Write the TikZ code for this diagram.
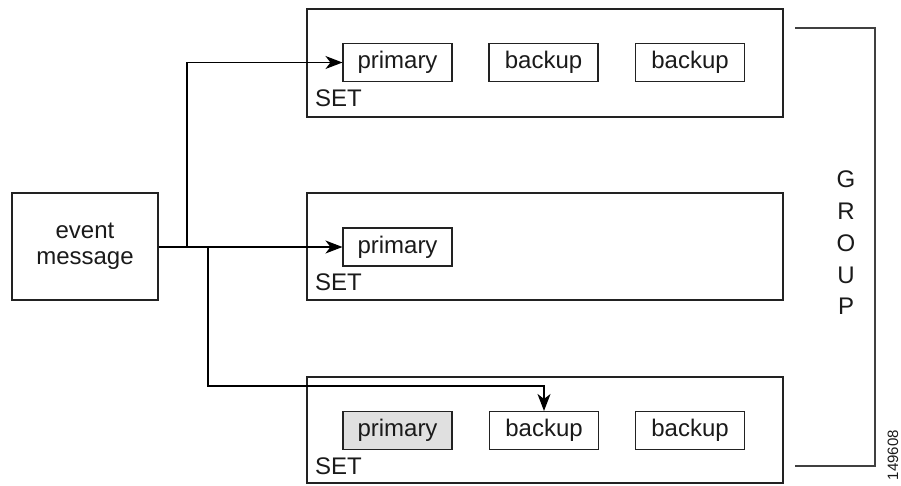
\documentclass[tikz,border=0pt]{standalone}
\usepackage{fontspec}
\setmainfont{Liberation Sans}
\usetikzlibrary{arrows.meta}
\definecolor{linec}{HTML}{222222}
\definecolor{textc}{HTML}{1A1A1A}
\definecolor{fillg}{HTML}{E0E0E0}
\begin{document}
\begin{tikzpicture}[x=1pt,y=-1pt,
  font=\fontsize{24}{26}\selectfont, text=textc,
  setbox/.style={draw=linec, line width=1.2pt, minimum width=476pt, inner sep=0pt},
  member/.style={draw=linec, line width=1.1pt, minimum width=109pt, minimum height=38pt, inner sep=0pt},
  setlabel/.style={anchor=base west, inner sep=0pt},
  conn/.style={draw=black, line width=1.2pt},
  arr/.style={conn, -{Stealth[length=17pt,width=13pt,inset=5pt]}}
]
\useasboundingbox (0,0) rectangle (901,485);
% event message
\node[draw=linec, line width=1.2pt, minimum width=146pt, minimum height=107pt, align=center, inner sep=0pt,
      font=\fontsize{24}{26}\selectfont] (ev) at (85,246.5) {event\\message};
% SET boxes
\node[setbox, minimum height=108pt] (s1) at (545,63) {};
\node[setbox, minimum height=107pt] (s2) at (545,246.5) {};
\node[setbox, minimum height=106pt] (s3) at (545,430) {};
\node[setlabel] (l1) at (315,106) {SET};
\node[setlabel] (l2) at (315,290) {SET};
\node[setlabel] (l3) at (315,474) {SET};
% members
\node[member] (p1) at (397.5,62.5) {primary};
\node[member] (b1) at (543.5,62.5) {backup};
\node[member] (c1) at (690,62.5) {backup};
\node[member] (p2) at (397.5,247) {primary};
\node[member, fill=fillg] (p3) at (397.5,430.5) {primary};
\node[member] (b3) at (544,430.5) {backup};
\node[member] (c3) at (690,430.5) {backup};
% connectors
\coordinate (j1) at (187,247);
\coordinate (j2) at (208,247);
\draw[arr] (ev.east |- p2.west) -- (p2.west);
\draw[arr] (j1) -- (j1 |- p1.west) -- (p1.west);
\draw[arr] (j2) -- (208,386) -- (b3.north |- 0,386) -- (b3.north);
% GROUP bracket
\coordinate (g1) at (795,28);
\coordinate (g2) at (875,28);
\coordinate (g3) at (875,466);
\coordinate (g4) at (795,466);
\draw[draw=black!75, line width=1.2pt] (g1) -- (g2) -- (g3) -- (g4);
\node[align=center, inner sep=0pt, font=\fontsize{24}{31.7}\selectfont] (grp) at (846,243) {G\\R\\O\\U\\P};
\node[rotate=90, inner sep=0pt, font=\fontsize{15}{17}\selectfont] (id) at (893,455) {149608};
\end{tikzpicture}
\end{document}
